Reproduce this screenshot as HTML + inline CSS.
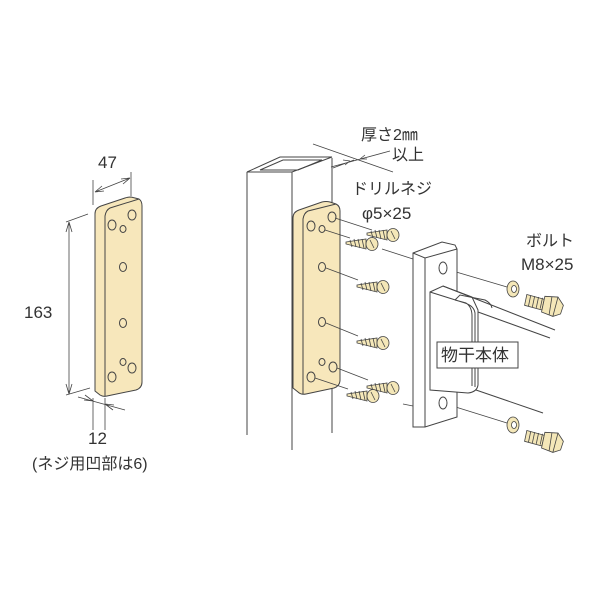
<!DOCTYPE html>
<html><head><meta charset="utf-8"><style>
body{margin:0;background:#fff}
svg{display:block}
text{font-family:"Liberation Sans","Noto Sans CJK JP",sans-serif;fill:#333;font-size:16px}
</style></head><body>
<svg width="600" height="600" viewBox="0 0 600 600" xmlns="http://www.w3.org/2000/svg">
<defs>
<g id="screw" stroke="#444" stroke-width="0.8" fill="#f4e7b8">
<path d="M-26,-2 L-6,-5 L-6,5 L-26,0 Z"/>
<path d="M-22,-4 l2,7 M-18,-5 l2,8 M-14,-5 l2,9 M-10,-5 l2,9" fill="none"/>
<ellipse cx="0" cy="0" rx="6" ry="6.5"/>
<path d="M-2,-4 L2,4" fill="none"/>
</g>
<g id="bolt" stroke="#444" stroke-width="0.8" fill="#f4e7b8" transform="rotate(12)">
<path d="M-27,-6 L-9,-5 L-9,6 L-27,5 Z"/>
<path d="M-23,-6 v11 M-19,-6 v11 M-15,-6 v11 M-11,-6 v11" fill="none"/>
<path d="M-9,-8 L4,-10 L11,-3 L10,6 L3,10 L-9,8 Z"/>
<path d="M-2,-9 L-1,9 M4,-10 L3,10" fill="none"/>
</g>
<g id="washer" stroke="#444" stroke-width="0.8" fill="#f4e7b8">
<ellipse cx="0" cy="0" rx="6" ry="8"/><ellipse cx="1" cy="0" rx="2.5" ry="3.5" fill="#fff"/>
</g>
</defs>

<g stroke="#444" stroke-width="1" fill="none">
<path d="M95,387 L95,214 Q95,208 101,206 L125,198 Q128,197 131,197 L139,199 Q142,201 142,206 L142,382 Q142,388 136,390 L107,396 Q103,397 100,395 L95,391 Z" fill="#f7e7bb"/>
<path d="M105,396 L105,216 Q106,210 110,208 L139,199" />
<ellipse cx="112" cy="225" rx="4" ry="5"/><ellipse cx="132" cy="215" rx="4" ry="5"/>
<ellipse cx="123" cy="229" rx="3" ry="3.5"/><ellipse cx="123" cy="267" rx="3.5" ry="4.5"/>
<ellipse cx="123" cy="323" rx="3.5" ry="4.5"/><ellipse cx="123" cy="362" rx="3" ry="3.5"/>
<ellipse cx="132" cy="368" rx="4" ry="5"/><ellipse cx="112" cy="377" rx="4" ry="5"/>
<g stroke-width="0.8">
<path d="M93,180 V205 M131,172 V196 M95,192 L130,178 M95,192 l7,-6 M95,192 l9,-1 M130,178 l-7,6 M130,178 l-9,1"/>
<path d="M69,222 V394 M66,222 L88,214 M66,395 L90,388 M69,222 l-3,10 M69,222 l3,10 M69,394 l-3,-10 M69,394 l3,-10"/>
<path d="M93,398 V430 M105,398 V430 M78,397 L125,410 M93,401 l-8,-6 M93,401 l-9,-1 M105,404 l8,6 M105,404 l9,1"/>
</g>
</g>
<text x="98" y="168" style="font-size:17px">47</text>
<text x="24" y="318" style="font-size:17px">163</text>
<text x="88" y="444" style="font-size:17px">12</text>
<text x="32" y="469">(ネジ用凹部は6)</text>

<g stroke="#444" stroke-width="1" fill="none">
<path d="M247,172 L247,435 M292,172 L292,450 M332,158 L332,433"/>
<path d="M247,172 L280,157 L332,157 L292,172 Z" fill="#fff"/>
<path d="M260,170 L283,160 L322,160 L298,170 Z"/>
<g stroke-width="0.8">
<path d="M313,144 L393,172 M333,168 L354,160 M331,167 L390,151 M350,161 l-7,-1 M350,161 l-5,4 M360,159 l7,0 M360,159 l5,-4"/>
</g>
<path d="M293,383 L293,218 Q293,212 299,210 L322,202 Q326,201 330,202 L336,204 Q340,206 340,211 L340,380 Q340,386 334,388 L306,394 Q301,395 298,392 L293,388 Z" fill="#f7e7bb"/>
<path d="M303,394 L303,219 Q304,213 308,211 L336,204"/>
<ellipse cx="311" cy="226" rx="4" ry="5"/><ellipse cx="332" cy="217" rx="4" ry="5"/>
<ellipse cx="322" cy="229" rx="3" ry="3.5"/><ellipse cx="322" cy="267" rx="3.5" ry="4.5"/>
<ellipse cx="322" cy="322" rx="3.5" ry="4.5"/><ellipse cx="322" cy="362" rx="3" ry="3.5"/>
<ellipse cx="333" cy="367" rx="4" ry="5"/><ellipse cx="311" cy="377" rx="4" ry="5"/>
<g stroke-width="0.8">
<path d="M335,218 L372,230 M325,230 L350,238 M326,268 L358,280 M326,323 L358,336 M337,368 L368,380 M315,378 L348,389"/>
<path d="M382,249 L413,259 M403,404 L413,406"/>
<path d="M446,269 L507,287 M446,404 L507,423"/>
</g>
</g>
<use href="#screw" x="393" y="235"/><use href="#screw" x="372" y="244"/>
<use href="#screw" x="383" y="287"/><use href="#screw" x="383" y="343"/>
<use href="#screw" x="393" y="388"/><use href="#screw" x="373" y="396"/>

<g stroke="#444" stroke-width="1" fill="#fff">
<path d="M413,253 L442,242 L455,245 L457,249 L457,417 L425,427 L413,427 Z"/>
<path d="M413,253 L425,258 L457,249 M425,258 L425,427" fill="none"/>
<!-- arm -->
<path d="M430,292 L443,286 L472,297 L478,310 L478,385 Q477,392 468,393 L430,390 Z"/>
<path d="M443,286 L555,330 M478,312 L550,338" fill="none"/>
<path d="M430,292 L465,303 Q474,306 475,313 L475,387 M455,300 L466,303 Q472,307 472,316 L472,386" fill="none"/>
<path d="M455,300 L460,295 L485,300 Q491,303 492,308" fill="none"/>
<path d="M476,390 L543,413" fill="none"/>
<ellipse cx="443" cy="268" rx="4" ry="6"/><ellipse cx="443" cy="403" rx="4" ry="6"/>
<rect x="437" y="342" width="81" height="26"/>
</g>
<text x="441" y="361" style="font-size:17px">物干本体</text>
<use href="#washer" x="513" y="289"/><use href="#washer" x="513" y="425"/>
<use href="#bolt" x="552" y="306"/><use href="#bolt" x="552" y="442"/>

<text x="361" y="140">厚さ2㎜</text>
<text x="392" y="160">以上</text>
<text x="352" y="194">ドリルネジ</text>
<text x="362" y="219" style="font-size:17px">φ5×25</text>
<text x="526" y="246">ボルト</text>
<text x="521" y="270" style="font-size:17px">M8×25</text>
</svg>
</body></html>
